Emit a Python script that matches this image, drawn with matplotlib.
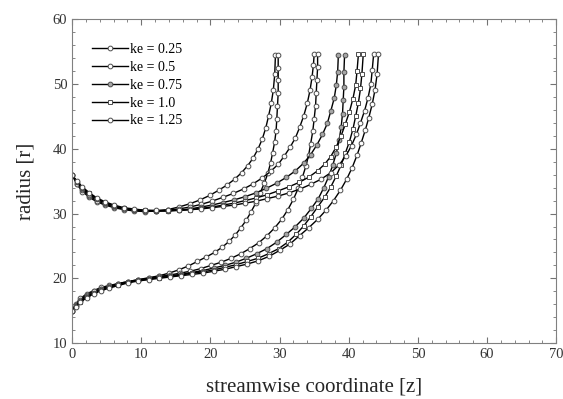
import numpy as np
import matplotlib.pyplot as plt

plt.rcParams['font.family'] = ['Liberation Serif', 'DejaVu Serif']

# streamlines (z, r), upper branch starts at r~36, lower at r~15
up_025 = np.array([[0, 36.0], [0.7, 34.5], [1.5, 33.4], [2.5, 32.5], [3.6, 31.8], [4.8, 31.3], [6.1, 30.9],
                   [7.5, 30.6], [9.0, 30.4], [10.6, 30.3], [12.2, 30.4], [13.8, 30.6], [15.4, 31.0], [17.0, 31.5],
                   [18.5, 32.1], [19.9, 32.8], [21.2, 33.6], [22.4, 34.4], [23.5, 35.3], [24.5, 36.3], [25.4, 37.4],
                   [26.2, 38.6], [26.9, 40.0], [27.5, 41.5], [28.0, 43.2], [28.4, 45.0], [28.8, 47.0], [29.1, 49.1],
                   [29.3, 51.5], [29.4, 54.4]])
lo_025 = np.array([[0, 15.0], [0.5, 16.0], [1.2, 16.9], [2.1, 17.6], [3.1, 18.1], [4.2, 18.6], [5.4, 18.9],
                   [6.7, 19.2], [8.1, 19.5], [9.6, 19.8], [11.1, 20.1], [12.6, 20.4], [14.0, 20.8], [15.4, 21.3],
                   [16.8, 21.9], [18.1, 22.6], [19.4, 23.3], [20.6, 24.0], [21.7, 24.8], [22.7, 25.7], [23.6, 26.7],
                   [24.4, 27.8], [25.2, 29.0], [25.9, 30.3], [26.6, 31.7], [27.2, 33.2], [27.8, 34.7], [28.3, 36.2],
                   [28.7, 37.8], [29.0, 39.4], [29.3, 41.1], [29.5, 42.8], [29.6, 44.6], [29.7, 46.6], [29.8, 48.6],
                   [29.8, 50.6], [29.8, 52.5], [29.8, 54.4]])

up_050 = np.array([[0, 36.0], [0.7, 34.6], [1.5, 33.6], [2.5, 32.7], [3.6, 32.0], [4.8, 31.4], [6.1, 31.0],
                   [7.5, 30.7], [9.0, 30.5], [10.6, 30.4], [12.2, 30.4], [13.8, 30.5], [15.4, 30.7], [17.0, 31.0],
                   [18.6, 31.4], [20.2, 31.9], [21.8, 32.5], [23.3, 33.1], [24.8, 33.8], [26.2, 34.6], [27.5, 35.5],
                   [28.7, 36.5], [29.8, 37.6], [30.7, 38.9], [31.5, 40.2], [32.3, 41.7], [32.9, 43.3], [33.5, 45.1],
                   [34.0, 47.0], [34.4, 49.0], [34.7, 51.1], [34.9, 53.0], [35.0, 54.6]])
lo_050 = np.array([[0, 15.0], [0.5, 15.9], [1.2, 16.7], [2.1, 17.4], [3.1, 18.0], [4.2, 18.4], [5.4, 18.8],
                   [6.7, 19.2], [8.1, 19.5], [9.6, 19.8], [11.1, 20.0], [12.6, 20.3], [14.1, 20.5], [15.6, 20.8],
                   [17.1, 21.1], [18.6, 21.5], [20.1, 22.0], [21.6, 22.5], [23.0, 23.1], [24.4, 23.8], [25.7, 24.6],
                   [27.0, 25.5], [28.2, 26.6], [29.3, 27.8], [30.3, 29.1], [31.2, 30.6], [32.0, 32.2], [32.7, 33.9],
                   [33.3, 35.6], [33.8, 37.3], [34.2, 39.0], [34.5, 40.8], [34.8, 42.7], [35.0, 44.6], [35.2, 46.6],
                   [35.3, 48.6], [35.4, 50.6], [35.5, 52.6], [35.5, 54.6]])

up_075 = np.array([[0, 36.0], [0.7, 34.8], [1.5, 33.8], [2.5, 32.9], [3.6, 32.2], [4.8, 31.6], [6.1, 31.1],
                   [7.5, 30.8], [9.0, 30.5], [10.6, 30.4], [12.2, 30.4], [13.8, 30.4], [15.4, 30.5], [17.0, 30.7],
                   [18.6, 31.0], [20.2, 31.3], [21.8, 31.7], [23.4, 32.1], [25.0, 32.6], [26.6, 33.2], [28.1, 33.9],
                   [29.6, 34.7], [31.0, 35.6], [32.3, 36.6], [33.5, 37.8], [34.5, 39.1], [35.4, 40.6], [36.2, 42.2],
                   [36.9, 43.9], [37.4, 45.8], [37.9, 47.8], [38.2, 49.8], [38.4, 51.9], [38.5, 54.5]])
lo_075 = np.array([[0, 15.0], [0.5, 15.8], [1.2, 16.5], [2.1, 17.2], [3.1, 17.8], [4.2, 18.3], [5.4, 18.7],
                   [6.7, 19.1], [8.1, 19.4], [9.6, 19.7], [11.1, 19.9], [12.6, 20.2], [14.1, 20.4], [15.7, 20.6],
                   [17.3, 20.9], [18.9, 21.2], [20.5, 21.6], [22.1, 22.0], [23.7, 22.5], [25.2, 23.1], [26.7, 23.8],
                   [28.2, 24.6], [29.6, 25.6], [31.0, 26.8], [32.3, 28.0], [33.5, 29.3], [34.6, 30.8], [35.6, 32.3],
                   [36.4, 34.0], [37.1, 35.7], [37.7, 37.5], [38.2, 39.3], [38.6, 41.3], [38.9, 43.3], [39.1, 45.4],
                   [39.2, 47.5], [39.3, 49.6], [39.3, 51.8], [39.4, 54.5]])

up_100 = np.array([[0, 36.0], [0.7, 34.9], [1.5, 33.9], [2.5, 33.1], [3.6, 32.3], [4.8, 31.7], [6.1, 31.2],
                   [7.5, 30.8], [9.0, 30.6], [10.6, 30.5], [12.2, 30.4], [13.8, 30.4], [15.4, 30.5], [17.0, 30.6],
                   [18.6, 30.8], [20.2, 31.0], [21.8, 31.3], [23.4, 31.6], [25.0, 32.0], [26.6, 32.4], [28.2, 32.9],
                   [29.8, 33.5], [31.3, 34.1], [32.8, 34.8], [34.2, 35.6], [35.5, 36.6], [36.5, 37.6], [37.4, 38.8],
                   [38.2, 40.3], [38.9, 42.0], [39.5, 43.8], [40.1, 45.7], [40.6, 47.7], [41.0, 49.8], [41.2, 52.0],
                   [41.4, 54.6]])
lo_100 = np.array([[0, 15.0], [0.5, 15.7], [1.2, 16.4], [2.1, 17.1], [3.1, 17.7], [4.2, 18.2], [5.4, 18.6],
                   [6.7, 19.0], [8.1, 19.4], [9.6, 19.7], [11.1, 19.9], [12.6, 20.1], [14.1, 20.3], [15.7, 20.5],
                   [17.3, 20.8], [18.9, 21.0], [20.5, 21.3], [22.1, 21.7], [23.7, 22.1], [25.3, 22.6], [26.9, 23.1],
                   [28.4, 23.8], [29.9, 24.6], [31.2, 25.6], [32.4, 26.8], [33.5, 28.1], [34.5, 29.5], [35.5, 31.0],
                   [36.5, 32.5], [37.4, 34.1], [38.2, 35.8], [38.9, 37.5], [39.5, 39.3], [40.1, 41.1], [40.6, 43.0],
                   [41.0, 45.0], [41.4, 47.1], [41.7, 49.3], [41.9, 51.5], [42.1, 54.6]])

up_125 = np.array([[0, 36.0], [0.7, 35.0], [1.5, 34.1], [2.5, 33.2], [3.6, 32.4], [4.8, 31.8], [6.1, 31.3],
                   [7.5, 30.9], [9.0, 30.7], [10.6, 30.5], [12.2, 30.5], [13.8, 30.5], [15.4, 30.5], [17.0, 30.6],
                   [18.6, 30.7], [20.2, 30.9], [21.8, 31.1], [23.4, 31.3], [25.0, 31.6], [26.6, 31.9], [28.2, 32.3],
                   [29.8, 32.7], [31.4, 33.2], [33.0, 33.8], [34.5, 34.5], [36.0, 35.3], [37.4, 36.3], [38.6, 37.5],
                   [39.6, 38.9], [40.4, 40.5], [41.1, 42.2], [41.7, 44.0], [42.3, 45.9], [42.8, 47.9], [43.2, 50.0],
                   [43.4, 52.2], [43.6, 54.6]])
lo_125 = np.array([[0, 15.0], [0.5, 15.6], [1.2, 16.3], [2.1, 17.0], [3.1, 17.6], [4.2, 18.1], [5.4, 18.5],
                   [6.7, 18.9], [8.1, 19.3], [9.6, 19.6], [11.1, 19.8], [12.6, 20.0], [14.1, 20.2], [15.7, 20.4],
                   [17.3, 20.6], [18.9, 20.8], [20.5, 21.1], [22.1, 21.4], [23.7, 21.8], [25.3, 22.2], [26.9, 22.7],
                   [28.5, 23.4], [30.0, 24.3], [31.5, 25.3], [32.9, 26.6], [34.2, 27.8], [35.5, 29.1], [36.7, 30.5],
                   [37.8, 32.0], [38.8, 33.6], [39.7, 35.3], [40.5, 37.1], [41.2, 39.0], [41.8, 40.9], [42.4, 42.9],
                   [42.9, 44.8], [43.4, 46.9], [43.8, 49.1], [44.1, 51.5], [44.3, 54.6]])

labels = ['ke = 0.25', 'ke = 0.5', 'ke = 0.75', 'ke = 1.0', 'ke = 1.25']
curves = [(up_025, lo_025), (up_050, lo_050), (up_075, lo_075), (up_100, lo_100), (up_125, lo_125)]
markers = ['o', 'o', 'o', 's', 'o']
mfcs = ['white', 'white', '0.65', 'white', 'white']

fig = plt.figure(figsize=(5.63, 3.99), dpi=100)
ax = fig.add_axes([0.128, 0.14, 0.86, 0.812])

for (up, lo), lab, mk, fc in zip(curves, labels, markers, mfcs):
    style = dict(color='black', lw=1.0, marker=mk, ms=3.4, mfc=fc, mec='0.3', mew=0.7)
    ax.plot(up[:, 0], up[:, 1], label=lab, **style)
    ax.plot(lo[:, 0], lo[:, 1], **style)

ax.set_xlim(0, 70)
ax.set_ylim(10, 60)
ax.set_xticks(np.arange(0, 71, 10))
ax.set_yticks(np.arange(10, 61, 10))
ax.set_xticks(np.arange(0, 71, 2), minor=True)
ax.set_yticks(np.arange(10, 61, 2), minor=True)
ax.tick_params(which='both', direction='in', top=True, right=True, colors='0.45',
               labelcolor='0.2', labelsize=10.5)
ax.tick_params(which='major', length=4)
ax.tick_params(which='minor', length=2)
for s in ax.spines.values():
    s.set_color('0.5')

ax.set_xlabel('streamwise coordinate [z]', fontsize=15, labelpad=12, color='0.15')
ax.set_ylabel('radius [r]', fontsize=15, labelpad=12, color='0.15')

ax.legend(loc='upper left', bbox_to_anchor=(0.015, 0.965), frameon=False, fontsize=10,
          handlelength=2.6, handletextpad=0.15, labelspacing=0.35, numpoints=1)

plt.savefig('out.png', dpi=100)
